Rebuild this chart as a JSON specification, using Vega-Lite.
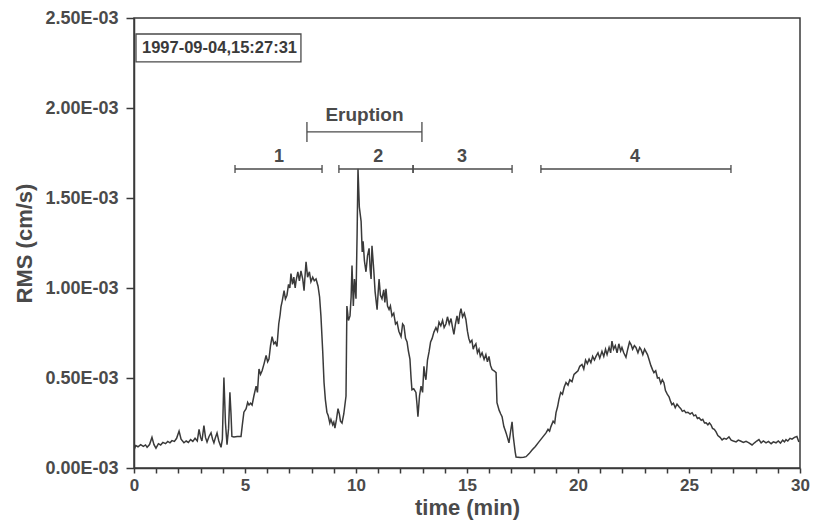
{
  "$schema": "https://vega.github.io/schema/vega-lite/v6.json",
  "width": 666,
  "height": 450,
  "autosize": "none",
  "padding": {"left": 134, "top": 18, "right": 14, "bottom": 56},
  "background": "white",
  "config": {
    "font": "Liberation Sans",
    "view": {"stroke": "#3a3a3a", "strokeWidth": 1.5},
    "axis": {"grid": false, "domainColor": "#3a3a3a", "domainWidth": 1.5, "tickColor": "#3a3a3a", "tickWidth": 1.5, "labelColor": "#4a4a4a", "titleColor": "#4a4a4a", "labelFont": "Liberation Sans", "titleFont": "Liberation Sans", "labelFontWeight": "bold", "titleFontWeight": "bold", "labelOverlap": false, "labelFlush": false},
    "axisX": {"titleFontSize": 22, "titlePadding": 4, "labelFontSize": 17, "tickSize": 5, "labelPadding": 4},
    "axisY": {"titleFontSize": 22, "titlePadding": 8, "labelFontSize": 18, "tickSize": 8, "labelPadding": 8}
  },
  "datasets": {
    "trace": [
      {"t":0.00,"rms":0.000100},{"t":0.08,"rms":0.000125},{"t":0.18,"rms":0.000118},{"t":0.30,"rms":0.000130},{"t":0.42,"rms":0.000120},{"t":0.52,"rms":0.000128},{"t":0.59,"rms":0.000115},{"t":0.70,"rms":0.000130},{"t":0.81,"rms":0.000170},{"t":0.90,"rms":0.000130},
      {"t":0.99,"rms":0.000110},{"t":1.10,"rms":0.000135},{"t":1.20,"rms":0.000128},{"t":1.30,"rms":0.000142},{"t":1.42,"rms":0.000135},{"t":1.52,"rms":0.000148},{"t":1.62,"rms":0.000140},{"t":1.71,"rms":0.000152},{"t":1.82,"rms":0.000148},{"t":1.92,"rms":0.000165},
      {"t":2.03,"rms":0.000205},{"t":2.12,"rms":0.000160},{"t":2.25,"rms":0.000140},{"t":2.35,"rms":0.000150},{"t":2.45,"rms":0.000142},{"t":2.55,"rms":0.000158},{"t":2.65,"rms":0.000148},{"t":2.75,"rms":0.000165},{"t":2.85,"rms":0.000150},{"t":2.93,"rms":0.000215},
      {"t":3.00,"rms":0.000170},{"t":3.06,"rms":0.000150},{"t":3.15,"rms":0.000235},{"t":3.22,"rms":0.000170},{"t":3.29,"rms":0.000145},{"t":3.38,"rms":0.000175},{"t":3.47,"rms":0.000195},{"t":3.54,"rms":0.000160},{"t":3.60,"rms":0.000140},{"t":3.67,"rms":0.000170},
      {"t":3.74,"rms":0.000195},{"t":3.82,"rms":0.000150},{"t":3.92,"rms":0.000115},{"t":3.98,"rms":0.000160},{"t":4.05,"rms":0.000502},{"t":4.12,"rms":0.000250},{"t":4.19,"rms":0.000130},{"t":4.26,"rms":0.000220},{"t":4.32,"rms":0.000420},{"t":4.37,"rms":0.000300},
      {"t":4.41,"rms":0.000175},{"t":4.50,"rms":0.000172},{"t":4.65,"rms":0.000175},{"t":4.82,"rms":0.000175},{"t":4.88,"rms":0.000240},{"t":4.95,"rms":0.000310},{"t":5.05,"rms":0.000330},{"t":5.12,"rms":0.000365},{"t":5.18,"rms":0.000350},{"t":5.25,"rms":0.000360},
      {"t":5.32,"rms":0.000350},{"t":5.40,"rms":0.000400},{"t":5.50,"rms":0.000455},{"t":5.56,"rms":0.000420},{"t":5.63,"rms":0.000550},{"t":5.70,"rms":0.000520},{"t":5.77,"rms":0.000540},{"t":5.86,"rms":0.000580},{"t":5.95,"rms":0.000625},{"t":6.02,"rms":0.000590},
      {"t":6.08,"rms":0.000605},{"t":6.15,"rms":0.000680},{"t":6.22,"rms":0.000730},{"t":6.30,"rms":0.000690},{"t":6.37,"rms":0.000700},{"t":6.44,"rms":0.000675},{"t":6.52,"rms":0.000800},{"t":6.58,"rms":0.000850},{"t":6.62,"rms":0.000895},{"t":6.68,"rms":0.000930},
      {"t":6.76,"rms":0.000985},{"t":6.82,"rms":0.000940},{"t":6.89,"rms":0.000960},{"t":6.96,"rms":0.001020},{"t":7.02,"rms":0.001000},{"t":7.07,"rms":0.001080},{"t":7.14,"rms":0.001020},{"t":7.20,"rms":0.001060},{"t":7.26,"rms":0.001000},{"t":7.30,"rms":0.001040},
      {"t":7.38,"rms":0.001090},{"t":7.45,"rms":0.001040},{"t":7.52,"rms":0.001095},{"t":7.60,"rms":0.001050},{"t":7.66,"rms":0.000985},{"t":7.70,"rms":0.001060},{"t":7.75,"rms":0.001145},{"t":7.82,"rms":0.001060},{"t":7.90,"rms":0.001090},{"t":7.97,"rms":0.001035},
      {"t":8.05,"rms":0.001060},{"t":8.12,"rms":0.001040},{"t":8.20,"rms":0.001050},{"t":8.29,"rms":0.001010},{"t":8.36,"rms":0.000950},{"t":8.42,"rms":0.000845},{"t":8.50,"rms":0.000650},{"t":8.56,"rms":0.000475},{"t":8.62,"rms":0.000380},{"t":8.69,"rms":0.000310},
      {"t":8.75,"rms":0.000290},{"t":8.82,"rms":0.000250},{"t":8.87,"rms":0.000270},{"t":8.95,"rms":0.000240},{"t":9.00,"rms":0.000255},{"t":9.05,"rms":0.000222},{"t":9.12,"rms":0.000270},{"t":9.19,"rms":0.000330},{"t":9.25,"rms":0.000300},{"t":9.30,"rms":0.000260},
      {"t":9.37,"rms":0.000250},{"t":9.45,"rms":0.000300},{"t":9.55,"rms":0.000400},{"t":9.57,"rms":0.000650},{"t":9.59,"rms":0.000900},{"t":9.66,"rms":0.000820},{"t":9.73,"rms":0.000845},{"t":9.78,"rms":0.000950},{"t":9.82,"rms":0.001125},{"t":9.88,"rms":0.000900},
      {"t":9.93,"rms":0.001050},{"t":10.00,"rms":0.000940},{"t":10.05,"rms":0.001300},{"t":10.09,"rms":0.001663},{"t":10.15,"rms":0.001450},{"t":10.23,"rms":0.001370},{"t":10.28,"rms":0.001200},{"t":10.32,"rms":0.001260},{"t":10.38,"rms":0.001150},{"t":10.45,"rms":0.001090},
      {"t":10.52,"rms":0.001180},{"t":10.59,"rms":0.001220},{"t":10.64,"rms":0.001100},{"t":10.68,"rms":0.001050},{"t":10.72,"rms":0.001235},{"t":10.80,"rms":0.001100},{"t":10.86,"rms":0.000980},{"t":10.95,"rms":0.000880},{"t":11.00,"rms":0.000980},{"t":11.04,"rms":0.001050},
      {"t":11.10,"rms":0.000960},{"t":11.17,"rms":0.000940},{"t":11.25,"rms":0.000990},{"t":11.30,"rms":0.000920},{"t":11.35,"rms":0.000995},{"t":11.42,"rms":0.000900},{"t":11.49,"rms":0.000880},{"t":11.55,"rms":0.000900},{"t":11.62,"rms":0.000845},{"t":11.70,"rms":0.000860},
      {"t":11.78,"rms":0.000800},{"t":11.85,"rms":0.000810},{"t":11.93,"rms":0.000760},{"t":12.03,"rms":0.000730},{"t":12.10,"rms":0.000800},{"t":12.16,"rms":0.000790},{"t":12.23,"rms":0.000720},{"t":12.30,"rms":0.000700},{"t":12.36,"rms":0.000650},{"t":12.43,"rms":0.000605},
      {"t":12.48,"rms":0.000500},{"t":12.52,"rms":0.000435},{"t":12.60,"rms":0.000440},{"t":12.70,"rms":0.000420},{"t":12.75,"rms":0.000350},{"t":12.79,"rms":0.000285},{"t":12.86,"rms":0.000400},{"t":12.93,"rms":0.000455},{"t":13.00,"rms":0.000420},{"t":13.06,"rms":0.000565},
      {"t":13.10,"rms":0.000520},{"t":13.15,"rms":0.000490},{"t":13.22,"rms":0.000600},{"t":13.29,"rms":0.000645},{"t":13.36,"rms":0.000700},{"t":13.43,"rms":0.000720},{"t":13.51,"rms":0.000755},{"t":13.60,"rms":0.000780},{"t":13.67,"rms":0.000760},{"t":13.74,"rms":0.000810},
      {"t":13.82,"rms":0.000790},{"t":13.90,"rms":0.000820},{"t":13.97,"rms":0.000780},{"t":14.05,"rms":0.000800},{"t":14.12,"rms":0.000840},{"t":14.20,"rms":0.000800},{"t":14.28,"rms":0.000830},{"t":14.35,"rms":0.000780},{"t":14.41,"rms":0.000742},{"t":14.48,"rms":0.000800},
      {"t":14.55,"rms":0.000845},{"t":14.62,"rms":0.000800},{"t":14.68,"rms":0.000860},{"t":14.73,"rms":0.000885},{"t":14.80,"rms":0.000840},{"t":14.88,"rms":0.000860},{"t":14.95,"rms":0.000825},{"t":15.02,"rms":0.000760},{"t":15.08,"rms":0.000720},{"t":15.14,"rms":0.000698},
      {"t":15.22,"rms":0.000710},{"t":15.28,"rms":0.000660},{"t":15.32,"rms":0.000675},{"t":15.40,"rms":0.000690},{"t":15.47,"rms":0.000640},{"t":15.54,"rms":0.000660},{"t":15.60,"rms":0.000620},{"t":15.68,"rms":0.000640},{"t":15.77,"rms":0.000603},{"t":15.85,"rms":0.000630},
      {"t":15.92,"rms":0.000590},{"t":15.99,"rms":0.000620},{"t":16.06,"rms":0.000570},{"t":16.13,"rms":0.000547},{"t":16.22,"rms":0.000540},{"t":16.31,"rms":0.000530},{"t":16.35,"rms":0.000363},{"t":16.45,"rms":0.000320},{"t":16.52,"rms":0.000300},{"t":16.58,"rms":0.000285},
      {"t":16.66,"rms":0.000230},{"t":16.72,"rms":0.000210},{"t":16.76,"rms":0.000195},{"t":16.82,"rms":0.000170},{"t":16.89,"rms":0.000140},{"t":16.96,"rms":0.000200},{"t":17.03,"rms":0.000257},{"t":17.08,"rms":0.000180},{"t":17.12,"rms":0.000140},{"t":17.17,"rms":0.000090},
      {"t":17.21,"rms":0.000061},{"t":17.40,"rms":0.000058},{"t":17.55,"rms":0.000060},{"t":17.66,"rms":0.000063},{"t":17.80,"rms":0.000080},{"t":17.93,"rms":0.000100},{"t":18.08,"rms":0.000120},{"t":18.24,"rms":0.000145},{"t":18.40,"rms":0.000170},{"t":18.56,"rms":0.000195},
      {"t":18.65,"rms":0.000215},{"t":18.72,"rms":0.000205},{"t":18.78,"rms":0.000230},{"t":18.88,"rms":0.000260},{"t":18.95,"rms":0.000250},{"t":19.01,"rms":0.000308},{"t":19.08,"rms":0.000340},{"t":19.14,"rms":0.000380},{"t":19.22,"rms":0.000420},{"t":19.30,"rms":0.000410},
      {"t":19.38,"rms":0.000450},{"t":19.46,"rms":0.000475},{"t":19.55,"rms":0.000460},{"t":19.63,"rms":0.000490},{"t":19.73,"rms":0.000480},{"t":19.82,"rms":0.000520},{"t":19.91,"rms":0.000530},{"t":20.00,"rms":0.000540},{"t":20.08,"rms":0.000565},{"t":20.18,"rms":0.000575},
      {"t":20.26,"rms":0.000550},{"t":20.34,"rms":0.000600},{"t":20.42,"rms":0.000580},{"t":20.50,"rms":0.000605},{"t":20.58,"rms":0.000585},{"t":20.66,"rms":0.000620},{"t":20.74,"rms":0.000600},{"t":20.81,"rms":0.000620},{"t":20.90,"rms":0.000640},{"t":20.98,"rms":0.000610},
      {"t":21.08,"rms":0.000648},{"t":21.16,"rms":0.000620},{"t":21.24,"rms":0.000660},{"t":21.31,"rms":0.000630},{"t":21.40,"rms":0.000670},{"t":21.47,"rms":0.000640},{"t":21.53,"rms":0.000705},{"t":21.60,"rms":0.000660},{"t":21.68,"rms":0.000680},{"t":21.76,"rms":0.000640},
      {"t":21.84,"rms":0.000690},{"t":21.92,"rms":0.000650},{"t":21.98,"rms":0.000670},{"t":22.06,"rms":0.000640},{"t":22.16,"rms":0.000615},{"t":22.24,"rms":0.000660},{"t":22.32,"rms":0.000700},{"t":22.39,"rms":0.000686},{"t":22.46,"rms":0.000660},{"t":22.54,"rms":0.000680},
      {"t":22.61,"rms":0.000670},{"t":22.70,"rms":0.000640},{"t":22.78,"rms":0.000670},{"t":22.84,"rms":0.000658},{"t":22.92,"rms":0.000630},{"t":23.00,"rms":0.000660},{"t":23.06,"rms":0.000647},{"t":23.13,"rms":0.000630},{"t":23.20,"rms":0.000603},{"t":23.28,"rms":0.000570},
      {"t":23.36,"rms":0.000545},{"t":23.42,"rms":0.000530},{"t":23.50,"rms":0.000540},{"t":23.58,"rms":0.000500},{"t":23.65,"rms":0.000502},{"t":23.73,"rms":0.000470},{"t":23.80,"rms":0.000490},{"t":23.87,"rms":0.000474},{"t":23.94,"rms":0.000430},{"t":24.02,"rms":0.000410},
      {"t":24.10,"rms":0.000396},{"t":24.17,"rms":0.000370},{"t":24.23,"rms":0.000352},{"t":24.30,"rms":0.000360},{"t":24.38,"rms":0.000335},{"t":24.46,"rms":0.000355},{"t":24.55,"rms":0.000340},{"t":24.63,"rms":0.000330},{"t":24.70,"rms":0.000315},{"t":24.78,"rms":0.000320},
      {"t":24.86,"rms":0.000307},{"t":24.95,"rms":0.000310},{"t":25.05,"rms":0.000300},{"t":25.14,"rms":0.000307},{"t":25.22,"rms":0.000290},{"t":25.30,"rms":0.000295},{"t":25.38,"rms":0.000275},{"t":25.45,"rms":0.000279},{"t":25.55,"rms":0.000265},{"t":25.62,"rms":0.000270},
      {"t":25.70,"rms":0.000250},{"t":25.77,"rms":0.000251},{"t":25.85,"rms":0.000240},{"t":25.92,"rms":0.000250},{"t":25.99,"rms":0.000240},{"t":26.06,"rms":0.000220},{"t":26.14,"rms":0.000215},{"t":26.22,"rms":0.000201},{"t":26.30,"rms":0.000180},{"t":26.40,"rms":0.000170},
      {"t":26.49,"rms":0.000156},{"t":26.58,"rms":0.000165},{"t":26.68,"rms":0.000160},{"t":26.80,"rms":0.000173},{"t":26.90,"rms":0.000155},{"t":27.00,"rms":0.000150},{"t":27.12,"rms":0.000145},{"t":27.22,"rms":0.000155},{"t":27.32,"rms":0.000150},{"t":27.45,"rms":0.000142},
      {"t":27.57,"rms":0.000148},{"t":27.70,"rms":0.000140},{"t":27.84,"rms":0.000128},{"t":27.95,"rms":0.000140},{"t":28.05,"rms":0.000150},{"t":28.15,"rms":0.000158},{"t":28.25,"rms":0.000140},{"t":28.35,"rms":0.000150},{"t":28.47,"rms":0.000140},{"t":28.58,"rms":0.000148},
      {"t":28.70,"rms":0.000135},{"t":28.80,"rms":0.000145},{"t":28.92,"rms":0.000140},{"t":29.02,"rms":0.000150},{"t":29.12,"rms":0.000138},{"t":29.22,"rms":0.000155},{"t":29.30,"rms":0.000145},{"t":29.37,"rms":0.000158},{"t":29.45,"rms":0.000150},{"t":29.55,"rms":0.000165},
      {"t":29.64,"rms":0.000160},{"t":29.75,"rms":0.000170},{"t":29.86,"rms":0.000175},{"t":29.95,"rms":0.000145}
    ],
    "segments": [
      {"label": "1", "start": 4.55, "end": 8.47, "center": 6.53},
      {"label": "2", "start": 9.23, "end": 12.57, "center": 11.0},
      {"label": "3", "start": 12.57, "end": 17.03, "center": 14.78},
      {"label": "4", "start": 18.33, "end": 26.89, "center": 22.57}
    ],
    "eruption": [
      {"label": "Eruption", "start": 7.79, "end": 12.97, "center": 10.38}
    ],
    "stamp": [
      {"label": "1997-09-04,15:27:31", "x0": 0.09, "x1": 7.52, "tx": 0.36}
    ]
  },
  "layer": [
    {
      "data": {"name": "trace"},
      "mark": {"type": "line", "color": "#3a3a3a", "strokeWidth": 1.5, "clip": true},
      "encoding": {
        "x": {"field": "t", "type": "quantitative", "scale": {"domain": [0, 30], "nice": false, "zero": false},
          "axis": {"title": "time (min)", "values": [0,1,2,3,4,5,6,7,8,9,10,11,12,13,14,15,16,17,18,19,20,21,22,23,24,25,26,27,28,29,30], "labelExpr": "datum.value % 5 == 0 ? datum.label : ''"}},
        "y": {"field": "rms", "type": "quantitative", "scale": {"domain": [0, 0.0025], "nice": false},
          "axis": {"title": "RMS (cm/s)", "values": [0, 0.0005, 0.001, 0.0015, 0.002, 0.0025], "labelExpr": "format(datum.value * 1000, '.2f') + 'E-03'"}}
      }
    },
    {
      "data": {"name": "segments"},
      "mark": {"type": "rule", "color": "#4a4a4a", "strokeWidth": 1.3},
      "encoding": {
        "x": {"field": "start", "type": "quantitative", "axis": {"title": "time (min)", "values": [0,1,2,3,4,5,6,7,8,9,10,11,12,13,14,15,16,17,18,19,20,21,22,23,24,25,26,27,28,29,30], "labelExpr": "datum.value % 5 == 0 ? datum.label : ''"}},
        "x2": {"field": "end"},
        "y": {"datum": 0.001661, "type": "quantitative", "axis": {"title": "RMS (cm/s)", "values": [0, 0.0005, 0.001, 0.0015, 0.002, 0.0025], "labelExpr": "format(datum.value * 1000, '.2f') + 'E-03'"}}
      }
    },
    {
      "data": {"name": "segments"},
      "mark": {"type": "rule", "color": "#4a4a4a", "strokeWidth": 1.3},
      "encoding": {
        "x": {"field": "start", "type": "quantitative", "axis": {"title": "time (min)", "values": [0,1,2,3,4,5,6,7,8,9,10,11,12,13,14,15,16,17,18,19,20,21,22,23,24,25,26,27,28,29,30], "labelExpr": "datum.value % 5 == 0 ? datum.label : ''"}},
        "y": {"datum": 0.001639, "type": "quantitative", "axis": {"title": "RMS (cm/s)", "values": [0, 0.0005, 0.001, 0.0015, 0.002, 0.0025], "labelExpr": "format(datum.value * 1000, '.2f') + 'E-03'"}},
        "y2": {"datum": 0.001683}
      }
    },
    {
      "data": {"name": "segments"},
      "mark": {"type": "rule", "color": "#4a4a4a", "strokeWidth": 1.3},
      "encoding": {
        "x": {"field": "end", "type": "quantitative", "axis": {"title": "time (min)", "values": [0,1,2,3,4,5,6,7,8,9,10,11,12,13,14,15,16,17,18,19,20,21,22,23,24,25,26,27,28,29,30], "labelExpr": "datum.value % 5 == 0 ? datum.label : ''"}},
        "y": {"datum": 0.001639, "type": "quantitative", "axis": {"title": "RMS (cm/s)", "values": [0, 0.0005, 0.001, 0.0015, 0.002, 0.0025], "labelExpr": "format(datum.value * 1000, '.2f') + 'E-03'"}},
        "y2": {"datum": 0.001683}
      }
    },
    {
      "data": {"name": "segments"},
      "mark": {"type": "text", "color": "#4a4a4a", "fontSize": 18, "fontWeight": "bold", "baseline": "middle", "align": "center"},
      "encoding": {
        "x": {"field": "center", "type": "quantitative", "axis": {"title": "time (min)", "values": [0,1,2,3,4,5,6,7,8,9,10,11,12,13,14,15,16,17,18,19,20,21,22,23,24,25,26,27,28,29,30], "labelExpr": "datum.value % 5 == 0 ? datum.label : ''"}},
        "y": {"datum": 0.001728, "type": "quantitative", "axis": {"title": "RMS (cm/s)", "values": [0, 0.0005, 0.001, 0.0015, 0.002, 0.0025], "labelExpr": "format(datum.value * 1000, '.2f') + 'E-03'"}},
        "text": {"field": "label"}
      }
    },
    {
      "data": {"name": "eruption"},
      "mark": {"type": "rule", "color": "#4a4a4a", "strokeWidth": 1.3},
      "encoding": {
        "x": {"field": "start", "type": "quantitative", "axis": {"title": "time (min)", "values": [0,1,2,3,4,5,6,7,8,9,10,11,12,13,14,15,16,17,18,19,20,21,22,23,24,25,26,27,28,29,30], "labelExpr": "datum.value % 5 == 0 ? datum.label : ''"}},
        "x2": {"field": "end"},
        "y": {"datum": 0.001867, "type": "quantitative", "axis": {"title": "RMS (cm/s)", "values": [0, 0.0005, 0.001, 0.0015, 0.002, 0.0025], "labelExpr": "format(datum.value * 1000, '.2f') + 'E-03'"}}
      }
    },
    {
      "data": {"name": "eruption"},
      "mark": {"type": "rule", "color": "#4a4a4a", "strokeWidth": 1.3},
      "encoding": {
        "x": {"field": "start", "type": "quantitative", "axis": {"title": "time (min)", "values": [0,1,2,3,4,5,6,7,8,9,10,11,12,13,14,15,16,17,18,19,20,21,22,23,24,25,26,27,28,29,30], "labelExpr": "datum.value % 5 == 0 ? datum.label : ''"}},
        "y": {"datum": 0.001811, "type": "quantitative", "axis": {"title": "RMS (cm/s)", "values": [0, 0.0005, 0.001, 0.0015, 0.002, 0.0025], "labelExpr": "format(datum.value * 1000, '.2f') + 'E-03'"}},
        "y2": {"datum": 0.001922}
      }
    },
    {
      "data": {"name": "eruption"},
      "mark": {"type": "rule", "color": "#4a4a4a", "strokeWidth": 1.3},
      "encoding": {
        "x": {"field": "end", "type": "quantitative", "axis": {"title": "time (min)", "values": [0,1,2,3,4,5,6,7,8,9,10,11,12,13,14,15,16,17,18,19,20,21,22,23,24,25,26,27,28,29,30], "labelExpr": "datum.value % 5 == 0 ? datum.label : ''"}},
        "y": {"datum": 0.001811, "type": "quantitative", "axis": {"title": "RMS (cm/s)", "values": [0, 0.0005, 0.001, 0.0015, 0.002, 0.0025], "labelExpr": "format(datum.value * 1000, '.2f') + 'E-03'"}},
        "y2": {"datum": 0.001922}
      }
    },
    {
      "data": {"name": "eruption"},
      "mark": {"type": "text", "color": "#4a4a4a", "fontSize": 19, "fontWeight": "bold", "baseline": "middle", "align": "center"},
      "encoding": {
        "x": {"field": "center", "type": "quantitative", "axis": {"title": "time (min)", "values": [0,1,2,3,4,5,6,7,8,9,10,11,12,13,14,15,16,17,18,19,20,21,22,23,24,25,26,27,28,29,30], "labelExpr": "datum.value % 5 == 0 ? datum.label : ''"}},
        "y": {"datum": 0.001961, "type": "quantitative", "axis": {"title": "RMS (cm/s)", "values": [0, 0.0005, 0.001, 0.0015, 0.002, 0.0025], "labelExpr": "format(datum.value * 1000, '.2f') + 'E-03'"}},
        "text": {"field": "label"}
      }
    },
    {
      "data": {"name": "stamp"},
      "mark": {"type": "rect", "fill": "white", "stroke": "#4a4a4a", "strokeWidth": 1.3},
      "encoding": {
        "x": {"field": "x0", "type": "quantitative", "axis": {"title": "time (min)", "values": [0,1,2,3,4,5,6,7,8,9,10,11,12,13,14,15,16,17,18,19,20,21,22,23,24,25,26,27,28,29,30], "labelExpr": "datum.value % 5 == 0 ? datum.label : ''"}},
        "x2": {"field": "x1"},
        "y": {"datum": 0.002411, "type": "quantitative", "axis": {"title": "RMS (cm/s)", "values": [0, 0.0005, 0.001, 0.0015, 0.002, 0.0025], "labelExpr": "format(datum.value * 1000, '.2f') + 'E-03'"}},
        "y2": {"datum": 0.002256}
      }
    },
    {
      "data": {"name": "stamp"},
      "mark": {"type": "text", "color": "#3a3a3a", "fontSize": 16.5, "fontWeight": "bold", "baseline": "middle", "align": "left"},
      "encoding": {
        "x": {"field": "tx", "type": "quantitative", "axis": {"title": "time (min)", "values": [0,1,2,3,4,5,6,7,8,9,10,11,12,13,14,15,16,17,18,19,20,21,22,23,24,25,26,27,28,29,30], "labelExpr": "datum.value % 5 == 0 ? datum.label : ''"}},
        "y": {"datum": 0.002333, "type": "quantitative", "axis": {"title": "RMS (cm/s)", "values": [0, 0.0005, 0.001, 0.0015, 0.002, 0.0025], "labelExpr": "format(datum.value * 1000, '.2f') + 'E-03'"}},
        "text": {"field": "label"}
      }
    }
  ]
}
